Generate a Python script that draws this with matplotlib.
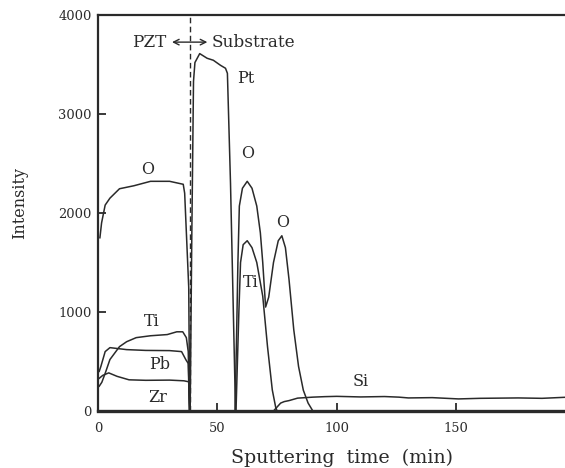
import numpy as np
import matplotlib
matplotlib.use('Agg')
import matplotlib.pyplot as plt

# AES depth profile: (sputtering time [min], intensity)
o_pzt_t = [0.8, 1.5, 3, 5, 9, 15, 22, 30, 35.7, 36.3, 38.0, 38.4]
o_pzt_i = [1750, 1900, 2080, 2150, 2245, 2275, 2320, 2320, 2290, 2200, 1250, 0]

ti_pzt_t = [0.5, 1.6, 3, 5, 9, 12, 16, 22, 29, 33, 35.5, 37.0, 37.8, 38.3]
ti_pzt_i = [250, 290, 380, 520, 650, 700, 741, 760, 772, 800, 800, 741, 600, 0]

pb_pzt_t = [0.5, 1.2, 3.0, 5, 12, 20, 30, 35, 36.8, 37.8, 38.3]
pb_pzt_i = [400, 450, 600, 640, 620, 612, 610, 600, 518, 480, 0]

zr_pzt_t = [0.5, 2, 4.5, 8, 13, 20, 30, 36, 38.0, 38.5]
zr_pzt_i = [330, 360, 385, 350, 315, 310, 312, 305, 295, 0]

pt_t = [38.6, 39.3, 40.0, 40.6, 42.6, 45.7, 48.3, 51.3, 53.4, 54.2, 55.5, 57.6]
pt_i = [0, 1800, 3330, 3520, 3610, 3563, 3543, 3492, 3462, 3411, 2300, 0]

o_sub_t = [57.4, 58.0, 58.6, 59.2, 60.5, 62.5, 64.5, 66.5, 68, 69, 70.2,
           71.5, 73.5, 75.5, 77, 78.5, 80, 82, 84, 86, 88, 90]
o_sub_i = [0, 700, 1500, 2070, 2250, 2320, 2250, 2070, 1800, 1500, 1050,
           1150, 1500, 1720, 1770, 1650, 1330, 820, 450, 210, 80, 0]

ti_sub_t = [57.8, 58.4, 59.0, 59.7, 60.8, 62.5, 64.5, 66.5, 69, 71, 73, 74.4, 75]
ti_sub_i = [0, 500, 1000, 1500, 1680, 1720, 1650, 1500, 1160, 650, 213, 40, 0]

si_t = [73.5, 75, 76.5, 78, 80, 83.6, 90, 95, 100, 110, 120, 126, 130,
        140, 151, 160, 176, 186, 197]
si_i = [0, 40, 80, 95, 105, 130, 140, 145, 148, 142, 146, 140, 132,
        135, 122, 128, 132, 128, 140]

series = [(o_pzt_t, o_pzt_i), (ti_pzt_t, ti_pzt_i), (pb_pzt_t, pb_pzt_i),
          (zr_pzt_t, zr_pzt_i), (pt_t, pt_i), (o_sub_t, o_sub_i),
          (ti_sub_t, ti_sub_i), (si_t, si_i)]

# peak labels: (text, time, intensity)
labels = [('O', 20.6, 2440), ('Ti', 22.7, 900), ('Pb', 26, 470),
          ('Zr', 25.2, 140), ('Pt', 62.0, 3360), ('O', 62.6, 2600),
          ('Ti', 64.0, 1300), ('O', 77.3, 1900), ('Si', 110, 300)]

interface_t = 38.5

plt.rcParams['font.family'] = ['DejaVu Serif']
ink = '#2a2a2a'

fig = plt.figure(figsize=(5.65, 4.68), dpi=100)
ax = fig.add_axes([98/565, 57/468, 1 - 98/565, 396/468])

for t, i in series:
    ax.plot(t, i, color=ink, lw=1.1)

ax.plot([interface_t, interface_t], [0, 4000], color=ink, lw=1.0,
        dashes=(4, 2.5))

for s, t, i in labels:
    ax.text(t, i, s, ha='center', va='center', fontsize=11.5, color=ink)

ax.annotate('', xy=(31, 3726), xytext=(45.8, 3726),
            arrowprops=dict(arrowstyle='<->', color=ink, lw=1.0,
                            shrinkA=0, shrinkB=0))
ax.text(28.8, 3726, 'PZT', ha='right', va='center', fontsize=12.2, color=ink)
ax.text(47.6, 3726, 'Substrate', ha='left', va='center', fontsize=12.2,
        color=ink)

ax.set_xlim(0, 195.6)
ax.set_ylim(0, 4000)
ax.set_xticks([0, 50, 100, 150])
ax.set_yticks([0, 1000, 2000, 3000, 4000])
ax.tick_params(direction='in', length=6, width=1.3, colors=ink,
               labelsize=9.4)
ax.tick_params(axis='y', pad=4.5)
ax.tick_params(axis='x', pad=8)
ax.spines['right'].set_visible(False)
ax.spines['left'].set_linewidth(1.6)
ax.spines['top'].set_linewidth(1.6)
ax.spines['bottom'].set_linewidth(2.4)
for sp in ax.spines.values():
    sp.set_color(ink)

ax.set_xlabel('Sputtering  time  (min)', fontsize=13.7, color=ink, va='center')
ax.xaxis.set_label_coords(0.522, -0.119)
fig.text(20/565, 1 - 203/468, 'Intensity', rotation=90, ha='center',
         va='center', fontsize=11.5, color=ink)

fig.savefig('out.png', dpi=100)
